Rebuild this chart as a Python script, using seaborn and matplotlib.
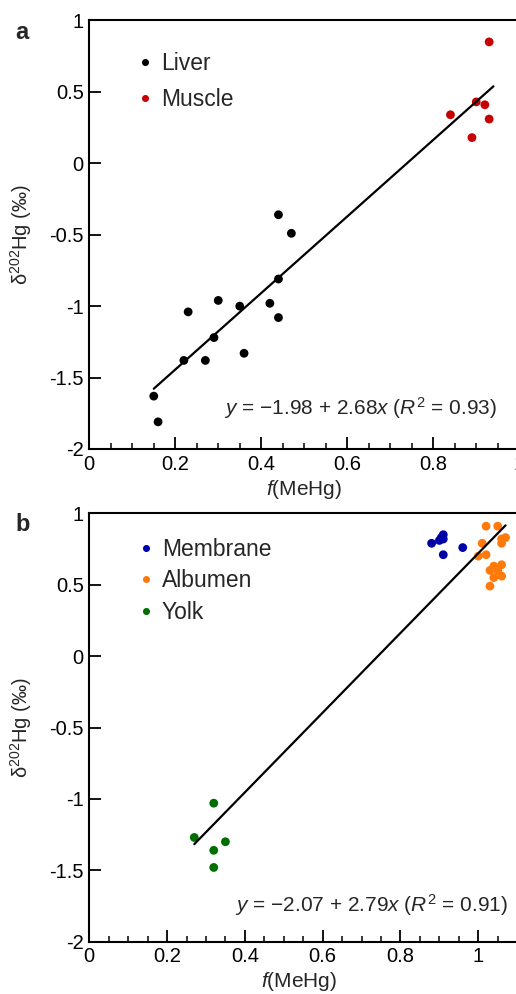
import matplotlib
matplotlib.use('Agg')
import matplotlib.pyplot as plt
import seaborn as sns
import pandas as pd
from matplotlib.ticker import MultipleLocator, FuncFormatter

# Panel a: liver and muscle
liver_x = [0.44, 0.47, 0.44, 0.30, 0.35, 0.42, 0.44, 0.23, 0.29, 0.22, 0.27, 0.36, 0.15, 0.16]
liver_y = [-0.36, -0.49, -0.81, -0.96, -1.00, -0.98, -1.08, -1.04, -1.22, -1.38, -1.38, -1.33, -1.63, -1.81]
muscle_x = [0.93, 0.90, 0.92, 0.93, 0.84, 0.89]
muscle_y = [0.85, 0.43, 0.41, 0.31, 0.34, 0.18]

# Panel b: egg tissues
membrane_x = [0.88, 0.90, 0.905, 0.91, 0.91, 0.91, 0.96]
membrane_y = [0.79, 0.81, 0.83, 0.85, 0.82, 0.71, 0.76]
albumen_x = [1.02, 1.05, 1.01, 1.06, 1.07, 1.06, 1.00, 1.02, 1.03, 1.04, 1.05, 1.06, 1.04, 1.06, 1.03]
albumen_y = [0.91, 0.91, 0.79, 0.82, 0.83, 0.79, 0.70, 0.71, 0.60, 0.63, 0.60, 0.64, 0.55, 0.56, 0.49]
yolk_x = [0.27, 0.32, 0.32, 0.32, 0.35]
yolk_y = [-1.27, -1.03, -1.36, -1.48, -1.30]

# fitted lines (from the equations printed on the panels)
fit_a = dict(b0=-1.98, b1=2.68, r2=0.93, xmin=0.15, xmax=0.94)
fit_b = dict(b0=-2.07, b1=2.79, r2=0.91, xmin=0.27, xmax=1.07)

sns.set_style('ticks')
plt.rcParams['font.family'] = ['Liberation Sans', 'DejaVu Sans']
plt.rcParams['mathtext.fontset'] = 'custom'
plt.rcParams['mathtext.rm'] = 'Liberation Sans'
plt.rcParams['mathtext.it'] = 'Liberation Sans:italic'
plt.rcParams['axes.unicode_minus'] = False

df_a = pd.DataFrame({
    'x': liver_x + muscle_x,
    'y': liver_y + muscle_y,
    'tissue': ['Liver'] * len(liver_x) + ['Muscle'] * len(muscle_x),
})
df_b = pd.DataFrame({
    'x': membrane_x + albumen_x + yolk_x,
    'y': membrane_y + albumen_y + yolk_y,
    'tissue': ['Membrane'] * len(membrane_x) + ['Albumen'] * len(albumen_x) + ['Yolk'] * len(yolk_x),
})

fig = plt.figure(figsize=(5.16, 9.94), dpi=100)
ax_a = fig.add_axes([0.173, 0.5483, 0.8333, 0.4311])
ax_b = fig.add_axes([0.173, 0.0526, 0.9047, 0.4310])

fmt = FuncFormatter(lambda v, p: '%g' % round(v, 2))


def style_axes(ax, xmax, label_x, label_y, ylab_x):
    ax.set_xlim(0, xmax)
    ax.set_ylim(-2, 1)
    ax.xaxis.set_major_locator(MultipleLocator(0.2))
    ax.xaxis.set_minor_locator(MultipleLocator(0.05))
    ax.yaxis.set_major_locator(MultipleLocator(0.5))
    ax.xaxis.set_major_formatter(fmt)
    ax.yaxis.set_major_formatter(fmt)
    ax.tick_params(axis='both', which='major', direction='in', length=8.5, width=1.3,
                   labelsize=14.5, pad=4, colors='black')
    ax.tick_params(axis='x', which='minor', direction='in', length=4.3, width=1.3)
    for s in ax.spines.values():
        s.set_linewidth(1.5)
        s.set_color('black')
    ax.set_xlabel('$f$(MeHg)', fontsize=15)
    ax.set_ylabel('δ$^{202}$Hg (‰)', fontsize=14.5)
    ax.xaxis.set_label_coords(label_x, label_y)
    ax.yaxis.set_label_coords(ylab_x, 0.5)


# panel a
sns.scatterplot(data=df_a, x='x', y='y', hue='tissue', palette={'Liver': 'black', 'Muscle': '#c80000'},
                s=40, edgecolor='none', ax=ax_a)
xs = [fit_a['xmin'], fit_a['xmax']]
ax_a.plot(xs, [fit_a['b0'] + fit_a['b1'] * v for v in xs], color='black', lw=1.6)
style_axes(ax_a, 1.0, 0.50, -0.068, -0.128)
ax_a.legend(loc='upper left', bbox_to_anchor=(0.117, 0.926), frameon=False, fontsize=16.5,
            handlelength=0.5, handletextpad=0.45, borderpad=0, borderaxespad=0,
            labelspacing=0.56, markerscale=0.8)
ax_a.text(0.948, -1.71, '$y$ = −%.2f + %.2f$x$ ($R^2$ = %.2f)' % (-fit_a['b0'], fit_a['b1'], fit_a['r2']),
          ha='right', va='center', fontsize=15)
fig.text(0.043, 0.967, 'a', fontsize=17, fontweight='bold', ha='center', va='center')

# panel b
sns.scatterplot(data=df_b, x='x', y='y', hue='tissue',
                palette={'Membrane': '#0000a8', 'Albumen': '#ff7a0a', 'Yolk': '#006e00'},
                s=40, edgecolor='none', ax=ax_b)
xs = [fit_b['xmin'], fit_b['xmax']]
ax_b.plot(xs, [fit_b['b0'] + fit_b['b1'] * v for v in xs], color='black', lw=1.6)
style_axes(ax_b, 1.2, (299 - 89) / 467, -0.066, -0.128 * 430 / 467)
ax_b.legend(loc='upper left', bbox_to_anchor=(0.109, 0.942), frameon=False, fontsize=16.5,
            handlelength=0.5, handletextpad=0.45, borderpad=0, borderaxespad=0,
            labelspacing=0.36, markerscale=0.8)
ax_b.text(1.075, -1.743, '$y$ = −%.2f + %.2f$x$ ($R^2$ = %.2f)' % (-fit_b['b0'], fit_b['b1'], fit_b['r2']),
          ha='right', va='center', fontsize=15)
fig.text(0.043, 0.472, 'b', fontsize=17, fontweight='bold', ha='center', va='center')

fig.savefig('out.png', dpi=100)
